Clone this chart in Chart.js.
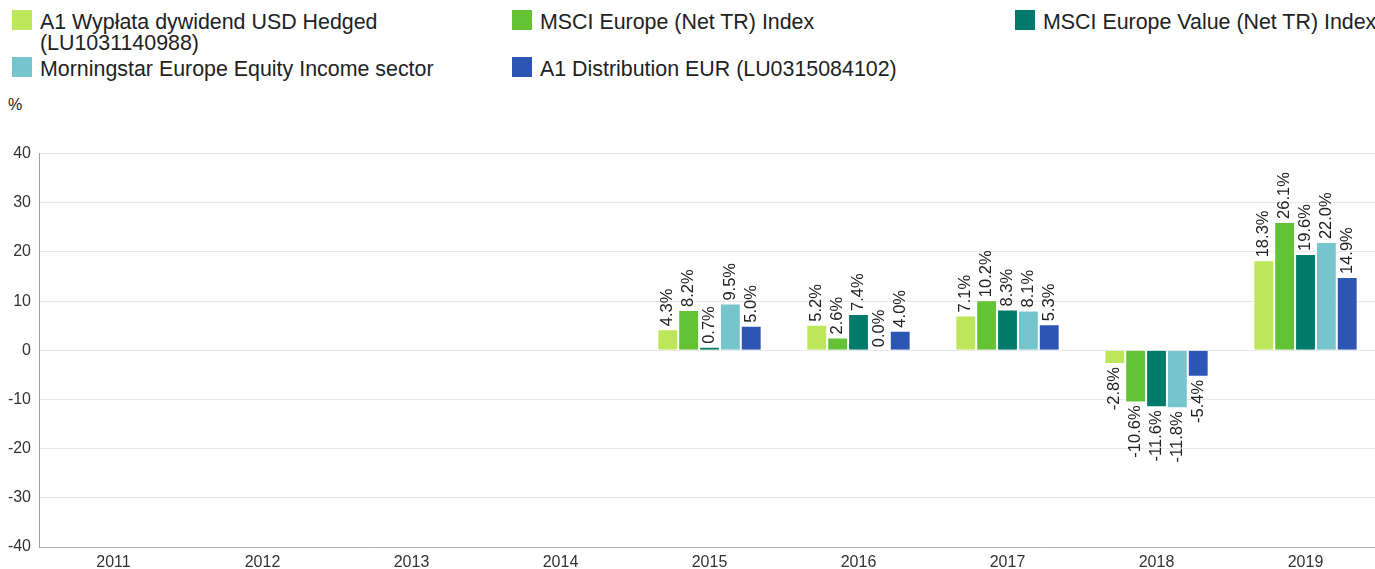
<!DOCTYPE html>
<html>
<head>
<meta charset="utf-8">
<script src="https://cdn.jsdelivr.net/npm/chart.js@4.4.1/dist/chart.umd.min.js"></script>
<style>
    html, body { margin: 0; padding: 0; background: #fff; }
    body { width: 1375px; height: 569px; position: relative; overflow: hidden; font-family: "Liberation Sans", Arial, sans-serif; color: #222; }
    #legend { position: absolute; left: 12px; top: 10px; width: 1380px; display: grid; grid-template-columns: 500px 503px 380px; row-gap: 5px; }
    .item { display: flex; align-items: flex-start; font-size: 21.4px; line-height: 21px; white-space: nowrap; }
    .box { width: 20px; height: 20px; flex: none; margin-right: 8px; }
    .txt { max-width: 440px; white-space: normal; position: relative; top: 2px; }
    .item:nth-child(3) .txt { max-width: none; white-space: nowrap; }
    #unit { position: absolute; left: 8px; top: 96px; font-size: 16px; color: #222; }
    #wrap { position: absolute; left: 0; top: 136px; width: 1380px; height: 432px; }
</style>
</head>
<body>
<div id="legend"></div>
<div id="unit">%</div>
<div id="wrap"><canvas id="chart"></canvas></div>
<script>
const years = ['2011', '2012', '2013', '2014', '2015', '2016', '2017', '2018', '2019'];
const seriesNames = [
    'A1 Wypłata dywidend USD Hedged (LU1031140988)',
    'MSCI Europe (Net TR) Index',
    'MSCI Europe Value (Net TR) Index',
    'Morningstar Europe Equity Income sector',
    'A1 Distribution EUR (LU0315084102)'
];
const seriesColors = ['#bde65a', '#63c334', '#007b6b', '#77c5cc', '#2c55b4'];

const a1UsdHedged = [null, null, null, null, 4.3, 5.2, 7.1, -2.8, 18.3];
const msciEurope = [null, null, null, null, 8.2, 2.6, 10.2, -10.6, 26.1];
const msciEuropeValue = [null, null, null, null, 0.7, 7.4, 8.3, -11.6, 19.6];
const morningstarIncome = [null, null, null, null, 9.5, 0.0, 8.1, -11.8, 22.0];
const a1DistributionEur = [null, null, null, null, 5.0, 4.0, 5.3, -5.4, 14.9];

const yMin = -40, yMax = 40, yStep = 10;

const seriesValues = [a1UsdHedged, msciEurope, msciEuropeValue, morningstarIncome, a1DistributionEur];

// html legend, laid out in three columns like the original
const legendEl = document.getElementById('legend');
seriesNames.forEach((name, i) => {
    const item = document.createElement('div');
    item.className = 'item';
    item.innerHTML = '<span class="box" style="background:' + seriesColors[i] + '"></span><span class="txt">' + name + '</span>';
    legendEl.appendChild(item);
});

const barLabels = {
    id: 'barLabels',
    afterDatasetsDraw(chart) {
        const ctx = chart.ctx;
        ctx.save();
        ctx.font = '16.5px "Liberation Sans", Arial, sans-serif';
        ctx.fillStyle = '#222';
        ctx.textBaseline = 'middle';
        chart.data.datasets.forEach((ds, i) => {
            chart.getDatasetMeta(i).data.forEach((bar, j) => {
                const v = ds.data[j];
                if (v === null || v === undefined) return;
                ctx.save();
                ctx.translate(bar.x, bar.y);
                ctx.rotate(-Math.PI / 2);
                const txt = v.toFixed(1) + '%';
                if (v >= 0) {
                    ctx.textAlign = 'left';
                    ctx.fillText(txt, 3, 0);
                } else {
                    ctx.textAlign = 'right';
                    ctx.fillText(txt, -3, 0);
                }
                ctx.restore();
            });
        });
        ctx.restore();
    }
};

const ctx = document.getElementById('chart').getContext('2d');
new Chart(ctx, {
    type: 'bar',
    data: {
        labels: years,
        datasets: seriesNames.map((name, i) => ({
            label: name,
            data: seriesValues[i],
            backgroundColor: seriesColors[i],
            borderColor: '#ffffff',
            borderWidth: 1,
            borderSkipped: 'start',
            categoryPercentage: 0.7,
            barPercentage: 1
        }))
    },
    options: {
        responsive: true,
        maintainAspectRatio: false,
        animation: false,
        layout: { padding: { top: 9, right: 0, left: 0, bottom: 0 } },
        plugins: {
            legend: { display: false },
            tooltip: {
                callbacks: {
                    label: function(context) {
                        return context.dataset.label + ': ' + context.raw + '%';
                    }
                }
            }
        },
        scales: {
            x: {
                afterFit: function(scale) { scale.height = 21; },
                ticks: {
                    color: '#333',
                    font: { size: 16, family: '"Liberation Sans", Arial, sans-serif' },
                    padding: 6,
                    maxRotation: 0
                },
                grid: { display: false, drawTicks: false },
                border: { color: '#b0b0b0' }
            },
            y: {
                min: yMin,
                max: yMax,
                afterFit: function(scale) { scale.width = 39; },
                ticks: {
                    stepSize: yStep,
                    color: '#333',
                    padding: 8,
                    font: { size: 16, family: '"Liberation Sans", Arial, sans-serif' }
                },
                grid: { color: '#e8e8e8', drawTicks: false },
                border: { color: '#a0a0a0' }
            }
        }
    },
    plugins: [barLabels]
});
</script>
</body>
</html>
